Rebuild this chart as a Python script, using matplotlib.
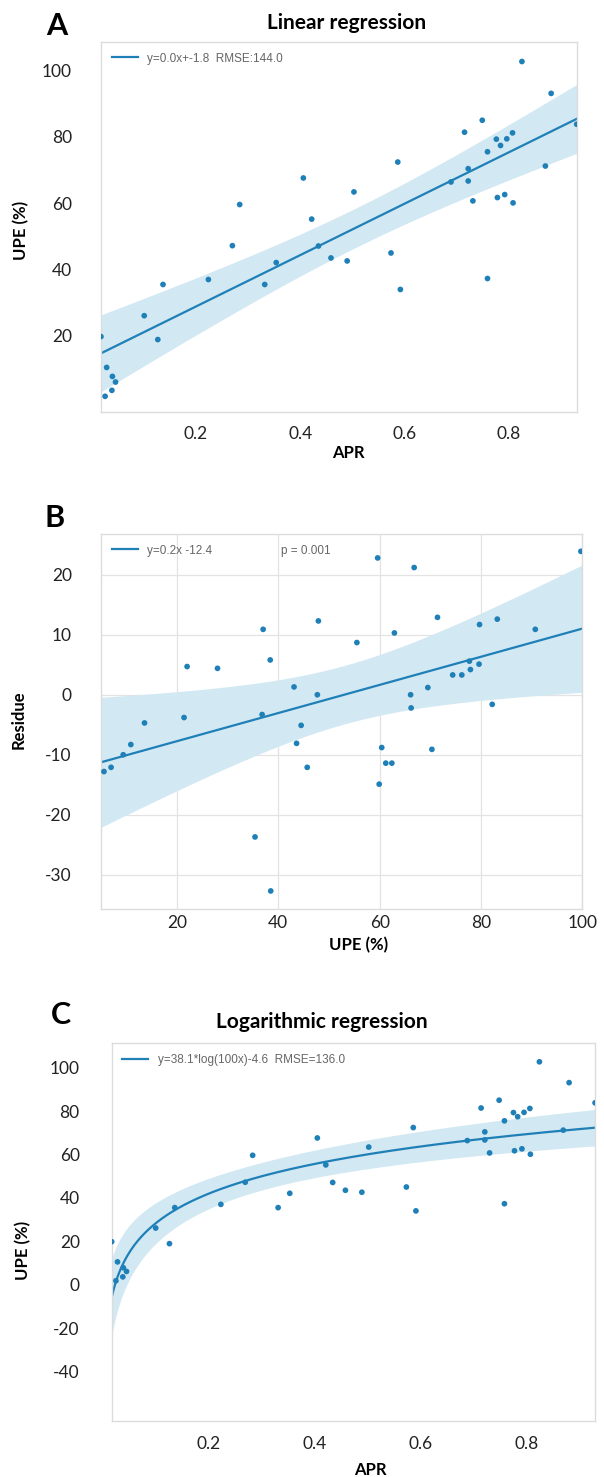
import numpy as np
import matplotlib.pyplot as plt

plt.rcParams['font.family'] = ['Lato', 'DejaVu Sans']
plt.rcParams['axes.unicode_minus'] = False

# APR vs UPE (%) - same measurements used in panels A and C
apr = np.array([0.825, 0.881, 0.930, 0.749, 0.715, 0.776, 0.796, 0.807, 0.784, 0.759,
                0.870, 0.722, 0.689, 0.722, 0.587, 0.406, 0.503, 0.284, 0.731, 0.778,
                0.792, 0.808, 0.422, 0.270, 0.435, 0.459, 0.490, 0.354, 0.574, 0.592,
                0.759, 0.224, 0.137, 0.332, 0.101, 0.127, 0.018, 0.029, 0.040, 0.046,
                0.039, 0.026])
upe = np.array([102.7, 93.1, 83.8, 85.0, 81.4, 79.3, 79.4, 81.2, 77.4, 75.5,
                71.2, 70.4, 66.4, 66.7, 72.4, 67.6, 63.4, 59.6, 60.7, 61.7,
                62.6, 60.1, 55.2, 47.2, 47.1, 43.5, 42.6, 42.1, 45.0, 34.0,
                37.3, 37.0, 35.5, 35.5, 26.1, 18.9, 19.8, 10.5, 7.8, 6.1,
                3.6, 1.8])

# panel B: residue vs UPE (%)
res_upe = np.array([99.7, 59.6, 66.8, 47.9, 37.0, 71.4, 83.2, 79.7, 90.7, 62.9,
                    55.5, 38.4, 22.0, 28.0, 77.7, 77.9, 79.6, 74.4, 76.2, 43.1,
                    69.5, 47.7, 66.1, 66.2, 82.2, 21.4, 36.8, 13.6, 44.5, 43.6,
                    10.9, 9.4, 7.0, 5.6, 45.7, 60.4, 61.2, 62.4, 70.3, 59.9,
                    35.4, 38.5])
res_val = np.array([23.9, 22.8, 21.2, 12.3, 10.9, 12.9, 12.6, 11.7, 10.9, 10.3,
                    8.7, 5.8, 4.7, 4.4, 5.6, 4.2, 5.1, 3.3, 3.3, 1.3,
                    1.2, 0.0, 0.0, -2.2, -1.6, -3.8, -3.3, -4.7, -5.1, -8.1,
                    -8.3, -10.0, -12.1, -12.8, -12.1, -8.8, -11.4, -11.4, -9.1, -14.9,
                    -23.7, -32.7])

legend_a = "y=0.0x+-1.8  RMSE:144.0"
legend_b = "y=0.2x -12.4"
pval_b = "p = 0.001"
legend_c = "y=38.1*log(100x)-4.6  RMSE=136.0"

blue = '#1f80b8'
band = '#d2e8f3'
ci_mult = 3.0


def fit_band(x, y, xs):
    # ordinary least squares + confidence band of the mean
    X = np.column_stack([np.ones_like(x), x])
    beta = np.linalg.lstsq(X, y, rcond=None)[0]
    resid = y - X @ beta
    s2 = resid @ resid / (len(x) - 2)
    cov = s2 * np.linalg.inv(X.T @ X)
    Xs = np.column_stack([np.ones_like(xs), xs])
    yhat = Xs @ beta
    se = np.sqrt(np.einsum('ij,jk,ik->i', Xs, cov, Xs))
    return yhat, yhat - ci_mult * se, yhat + ci_mult * se


def style(ax, grid=False, ypad=21):
    for sp in ax.spines.values():
        sp.set_color('#dcdcdc')
        sp.set_linewidth(1.0)
    ax.tick_params(length=0, labelsize=12.5, colors='#222222')
    ax.tick_params(axis='y', pad=ypad)
    if grid:
        ax.grid(True, color='#e3e3e3', linewidth=0.9)
        ax.set_axisbelow(True)


def legend(ax):
    leg = ax.legend(loc='upper left', bbox_to_anchor=(0.0, 1.0), frameon=False,
                    handlelength=2.2, handletextpad=0.8, borderaxespad=0.5,
                    prop={'family': 'Liberation Sans', 'size': 8.5})
    for t in leg.get_texts():
        t.set_color('#666666')
    return leg


fig = plt.figure(figsize=(6.04, 14.77), dpi=100)

# A: linear regression
axA = fig.add_axes([0.1671, 0.7209, 0.7877, 0.2507])
xs = np.linspace(apr.min(), apr.max(), 200)
yhat, lo, hi = fit_band(apr, upe, xs)
axA.fill_between(xs, lo, hi, color=band, linewidth=0)
axA.plot(xs, yhat, color=blue, linewidth=1.6, label=legend_a)
axA.scatter(apr, upe, s=17, color=blue, edgecolor='none', zorder=3)
axA.set_xlim(apr.min(), apr.max())
axA.set_ylim(-3.0, 108.6)
axA.set_xticks([0.2, 0.4, 0.6, 0.8])
axA.set_yticks([20, 40, 60, 80, 100])
style(axA, ypad=21)
axA.tick_params(axis='x', pad=10)
legend(axA)

# B: residue vs UPE
axB = fig.add_axes([0.1671, 0.3846, 0.7972, 0.2539])
xs = np.linspace(5.0, 100.0, 200)
yhat, lo, hi = fit_band(res_upe, res_val, xs)
axB.fill_between(xs, lo, hi, color=band, linewidth=0, zorder=1)
axB.plot(xs, yhat, color=blue, linewidth=1.6, label=legend_b, zorder=2)
axB.scatter(res_upe, res_val, s=17, color=blue, edgecolor='none', zorder=3)
axB.set_xlim(5.0, 100.0)
axB.set_ylim(-35.7, 26.8)
axB.set_xticks([20, 40, 60, 80, 100])
axB.set_yticks([-30, -20, -10, 0, 10, 20])
style(axB, grid=True, ypad=21)
axB.tick_params(axis='x', pad=4)
legend(axB)
axB.text(0.374, 0.955, pval_b, transform=axB.transAxes, ha='left', va='center',
         family='Liberation Sans', fontsize=8.5, color='#666666')

# C: logarithmic regression
axC = fig.add_axes([0.1849, 0.0381, 0.8003, 0.2555])
xs = np.linspace(apr.min(), apr.max(), 300)
yhat, lo, hi = fit_band(np.log10(100 * apr), upe, np.log10(100 * xs))
axC.fill_between(xs, lo, hi, color=band, linewidth=0)
axC.plot(xs, yhat, color=blue, linewidth=1.6, label=legend_c)
axC.scatter(apr, upe, s=17, color=blue, edgecolor='none', zorder=3)
axC.set_xlim(apr.min(), apr.max())
axC.set_ylim(-62.7, 111.2)
axC.set_xticks([0.2, 0.4, 0.6, 0.8])
axC.set_yticks([-40, -20, 0, 20, 40, 60, 80, 100])
style(axC, ypad=23)
axC.tick_params(axis='x', pad=11)
legend(axC)

# labels, titles, panel letters
W, H = 604, 1477


def ftext(px, py, s, **kw):
    fig.text(px / W, 1 - py / H, s, ha='center', va='center', **kw)


ftext(57, 26, 'A', fontsize=22, fontweight='bold')
ftext(55, 518, 'B', fontsize=22, fontweight='bold')
ftext(61, 1015, 'C', fontsize=22, fontweight='bold')
ftext(347, 23, 'Linear regression', fontsize=15, fontweight='bold')
ftext(322, 1022, 'Logarithmic regression', fontsize=15, fontweight='bold')

ftext(21, 230, 'UPE (%)', fontsize=12, fontweight='bold', rotation=90)
ftext(348, 453, 'APR', fontsize=12, fontweight='bold')
ftext(19, 720, 'Residue', fontsize=12, fontweight='bold', rotation=90)
ftext(359, 945, 'UPE (%)', fontsize=12, fontweight='bold')
ftext(23, 1250, 'UPE (%)', fontsize=12, fontweight='bold', rotation=90)
ftext(370, 1470, 'APR', fontsize=12, fontweight='bold')

fig.savefig('out.png', dpi=100)
